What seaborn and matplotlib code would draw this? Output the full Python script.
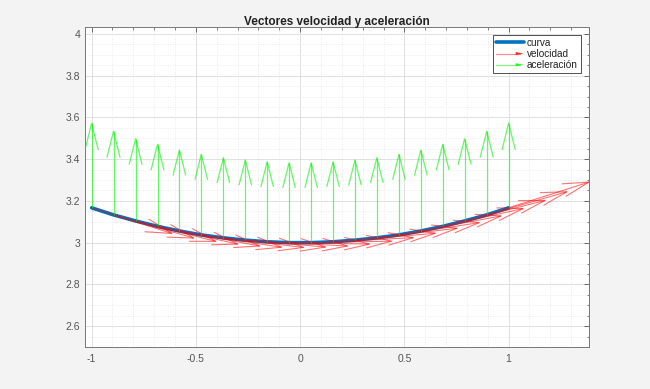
import numpy as np
import pandas as pd
import matplotlib
matplotlib.use("Agg")
import matplotlib.pyplot as plt
import seaborn as sns
from matplotlib.lines import Line2D
from matplotlib.patches import Polygon
from matplotlib.legend_handler import HandlerBase
from matplotlib.ticker import MultipleLocator, FormatStrFormatter

# ------------------------------------------------------------------
# Datos
# ------------------------------------------------------------------
x_pts = [-1.000, -0.895, -0.789, -0.684, -0.579, -0.474, -0.368, -0.263, -0.158, -0.053,
         0.053, 0.158, 0.263, 0.368, 0.474, 0.579, 0.684, 0.789, 0.895, 1.000]
y_pts = [3.167, 3.133, 3.104, 3.078, 3.056, 3.037, 3.023, 3.012, 3.004, 3.000,
         3.000, 3.004, 3.012, 3.023, 3.037, 3.056, 3.078, 3.104, 3.133, 3.167]

# velocidad (escalada como en la figura)
vel_u = [0.385, 0.385, 0.385, 0.385, 0.385, 0.385, 0.385, 0.385, 0.385, 0.385,
         0.385, 0.385, 0.385, 0.385, 0.385, 0.385, 0.385, 0.385, 0.385, 0.385]
vel_v = [-0.123, -0.111, -0.098, -0.085, -0.072, -0.059, -0.046, -0.033, -0.020, -0.007,
         0.007, 0.020, 0.033, 0.046, 0.059, 0.072, 0.085, 0.098, 0.111, 0.123]

# aceleracion (vertical)
acc_u = [0.0] * 20
acc_v = [0.405, 0.401, 0.394, 0.393, 0.388, 0.386, 0.384, 0.384, 0.384, 0.383,
         0.383, 0.384, 0.384, 0.384, 0.386, 0.388, 0.393, 0.394, 0.401, 0.405]

labels = ["curva", "velocidad", "aceleración"]
col_curve = "#0072BD"
col_vel = (1.0, 0.0, 0.0)
col_acc = (0.0, 0.95, 0.0)

df = pd.DataFrame({"x": x_pts, "y": y_pts})

# ------------------------------------------------------------------
sns.set_theme(style="white")
plt.rcParams["font.family"] = ["Liberation Sans", "DejaVu Sans"]

fig = plt.figure(figsize=(6.5, 3.89), dpi=100, facecolor="#f3f3f3")
ax = fig.add_axes([0.131, 0.108, 0.775, 0.823])
ax.set_facecolor("white")


def draw_arrows(ax, xs, ys, us, vs, color, alpha, lw, a=0.31, b=0.25):
    # flechas estilo MATLAB: astil + punta abierta
    for x0, y0, u, v in zip(xs, ys, us, vs):
        x1, y1 = x0 + u, y0 + v
        ax.plot([x0, x1], [y0, y1], color=color, alpha=alpha, lw=lw,
                solid_capstyle="butt", zorder=3)
        hx = [x1 - a * (u + b * v), x1, x1 - a * (u - b * v)]
        hy = [y1 - a * (v - b * u), y1, y1 - a * (v + b * u)]
        ax.plot(hx, hy, color=color, alpha=alpha, lw=lw, zorder=3)


sns.lineplot(data=df, x="x", y="y", ax=ax, color=col_curve, lw=2.6,
             sort=False, zorder=2)
draw_arrows(ax, x_pts, y_pts, vel_u, vel_v, col_vel, 0.55, 0.8)
draw_arrows(ax, x_pts, y_pts, acc_u, acc_v, col_acc, 0.6, 0.9)

ax.set_xlim(-1.031, 1.385)
ax.set_ylim(2.50, 4.034)
ax.xaxis.set_major_locator(MultipleLocator(0.5))
ax.xaxis.set_minor_locator(MultipleLocator(0.1))
ax.yaxis.set_major_locator(MultipleLocator(0.2))
ax.yaxis.set_minor_locator(MultipleLocator(0.05))
ax.xaxis.set_major_formatter(FormatStrFormatter("%g"))
ax.yaxis.set_major_formatter(FormatStrFormatter("%g"))

ax.grid(which="major", color="#dcdcdc", lw=0.6, ls="-", zorder=0)
ax.grid(which="minor", color="#e4e4e4", lw=0.6, ls=(0, (1, 2)), zorder=0)
ax.set_axisbelow(True)

ax.tick_params(which="both", direction="in", top=True, right=True,
               colors="#555555", labelsize=7.5)
ax.tick_params(which="major", length=3.5, width=0.6)
ax.tick_params(which="minor", length=1.8, width=0.5)
ax.tick_params(axis="x", pad=5)
for s in ax.spines.values():
    s.set_color("#777777")
    s.set_linewidth(0.7)

ax.set_xlabel("")
ax.set_ylabel("")
ax.set_title("Vectores velocidad y aceleración", fontsize=8.5,
             fontweight="bold", color="#222222", pad=1.5)


class ArrowHandler(HandlerBase):
    def __init__(self, color, alpha):
        super().__init__()
        self.color = color
        self.alpha = alpha

    def create_artists(self, legend, orig_handle, xdescent, ydescent,
                       width, height, fontsize, trans):
        y = height / 2 - ydescent
        x0, x1 = -xdescent, width - xdescent
        hl = 0.28 * width
        ln = Line2D([x0, x1 - hl * 0.5], [y, y], color=self.color,
                    alpha=self.alpha, lw=0.9, transform=trans)
        head = Polygon([[x1, y], [x1 - hl, y + height * 0.22],
                        [x1 - hl, y - height * 0.22]], closed=True,
                       facecolor=self.color, edgecolor="none",
                       alpha=0.8, transform=trans)
        return [ln, head]


h_curve = Line2D([0], [0], color=col_curve, lw=2.6)
h_vel = Line2D([0], [0], color=col_vel)
h_acc = Line2D([0], [0], color=col_acc)
leg = ax.legend([h_curve, h_vel, h_acc], labels, loc="upper right",
                fontsize=7.2, frameon=True, fancybox=False, framealpha=1,
                edgecolor="#333333", handlelength=2.8, handletextpad=0.35,
                labelspacing=0.12, borderpad=0.3, borderaxespad=0.8,
                handler_map={h_vel: ArrowHandler(col_vel, 0.45),
                             h_acc: ArrowHandler(col_acc, 0.5)})
leg.get_frame().set_linewidth(0.6)
for t in leg.get_texts():
    t.set_color("#222222")

fig.savefig("out.png", dpi=100, facecolor=fig.get_facecolor())
